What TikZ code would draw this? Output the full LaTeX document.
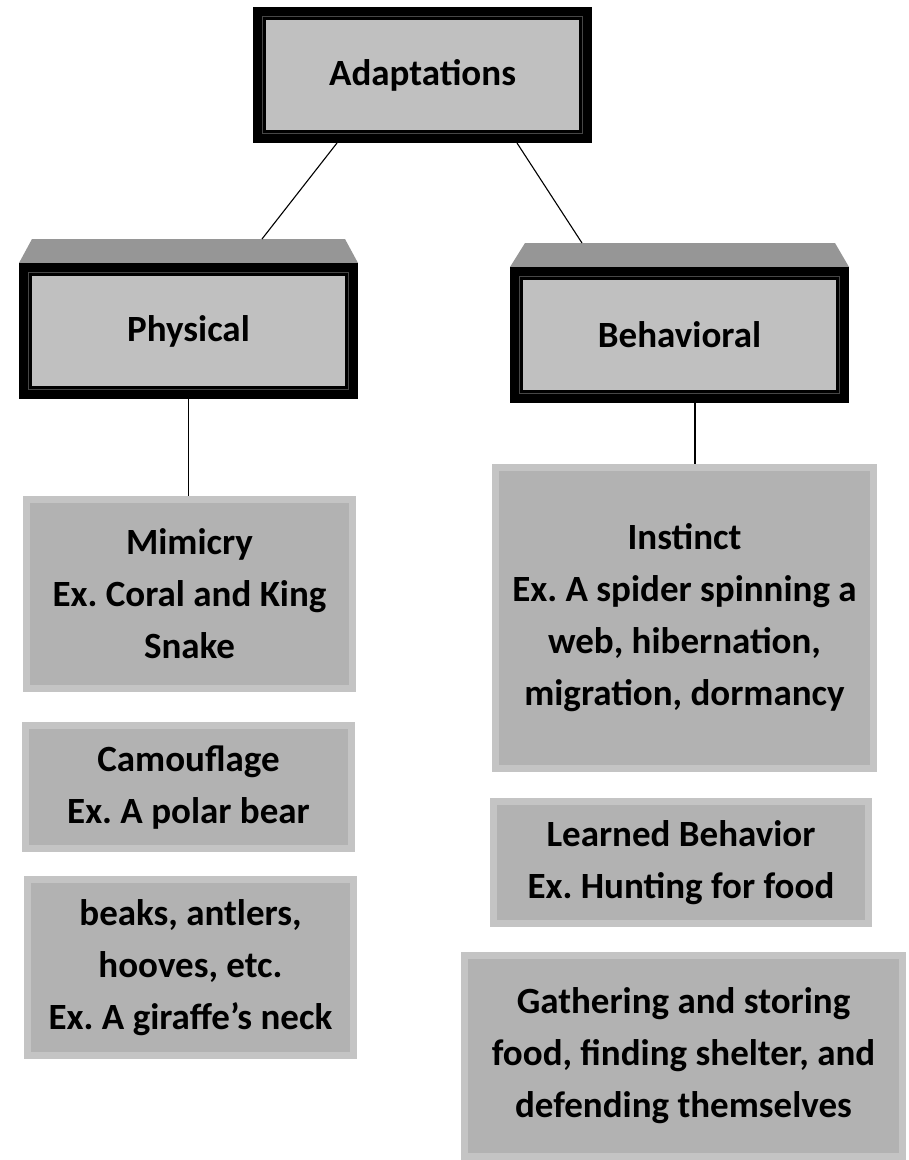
\documentclass[tikz,border=0pt]{standalone}
\usepackage{fontspec}
\setmainfont{Carlito}
\usetikzlibrary{calc}
\definecolor{boxfill}{HTML}{B2B2B2}
\definecolor{boxedge}{HTML}{C4C4C4}
\definecolor{headfill}{HTML}{C0C0C0}
\definecolor{topface}{HTML}{969696}
\newcommand{\lowtext}[1]{\raisebox{-4pt}{#1}}
\tikzset{
  txt/.style={font=\bfseries\fontsize{37}{52}\selectfont, align=center, text=black},
  graybox/.style={txt, rectangle, fill=boxfill, draw=boxedge, line width=7pt, inner sep=0pt},
  headbox/.style={txt, rectangle, fill=headfill, draw=black, line width=13pt, inner sep=0pt},
  thinframe/.style={draw=black!72, line width=0.5pt},
  face/.style={fill=topface, draw=none},
  conn/.style={draw=black, line width=1.1pt},
}
\begin{document}
\frenchspacing
\begin{tikzpicture}[x=1pt,y=-1pt]
\useasboundingbox (0,0) rectangle (909,1160);
% 3D top faces
\fill[face] (32,239) -- (345,239) -- (358,263) -- (19,263) -- cycle;
\fill[face] (525,243) -- (835,243) -- (849,267) -- (510,267) -- cycle;
\coordinate (phystop) at (262,239);
\coordinate (behavtop) at (582,243);
% header boxes
\node[headbox, minimum width=326pt, minimum height=123pt] (adapt) at (422.5,75) {\lowtext{Adaptations}};
\node[headbox, minimum width=326pt, minimum height=123pt] (phys) at (188.5,331) {\lowtext{Physical}};
\node[headbox, minimum width=326pt, minimum height=123pt] (behav) at (679.5,335) {\lowtext{Behavioral}};
\foreach \n in {adapt,phys,behav}{
  \draw[thinframe] ($(\n.north west)+(9.5,9.5)$) rectangle ($(\n.south east)+(-9.5,-9.5)$);
}
% gray boxes
\node[graybox, minimum width=326pt, minimum height=189pt] (mim) at (189.5,594) {Mimicry\\Ex. Coral and King\\Snake};
\node[graybox, minimum width=326pt, minimum height=123pt] (cam) at (188.5,787) {Camouflage\\Ex. A polar bear};
\node[graybox, minimum width=326pt, minimum height=176pt] (beak) at (190.5,967.5) {beaks, antlers,\\hooves, etc.\\Ex. A giraffe’s neck};
\node[graybox, minimum width=378pt, minimum height=301pt] (inst) at (684.5,618) {Instinct\\Ex. A spider spinning a\\web, hibernation,\\migration, dormancy};
\node[graybox, minimum width=375pt, minimum height=122pt] (learn) at (681,862.5) {Learned Behavior\\Ex. Hunting for food};
\node[graybox, minimum width=438pt, minimum height=201pt] (gath) at (683.5,1056) {Gathering and storing\\food, finding shelter, and\\defending themselves};
% connectors
\draw[conn] ($(adapt.south)+(-85.5,0)$) -- (phystop);
\draw[conn] ($(adapt.south)+(94.5,0)$) -- (behavtop);
\draw[conn] (phys.south) -- (phys.south |- mim.north);
\draw[conn] ($(behav.south)+(15.5,0)$) coordinate (bd) -- (bd |- inst.north);
\end{tikzpicture}
\end{document}
